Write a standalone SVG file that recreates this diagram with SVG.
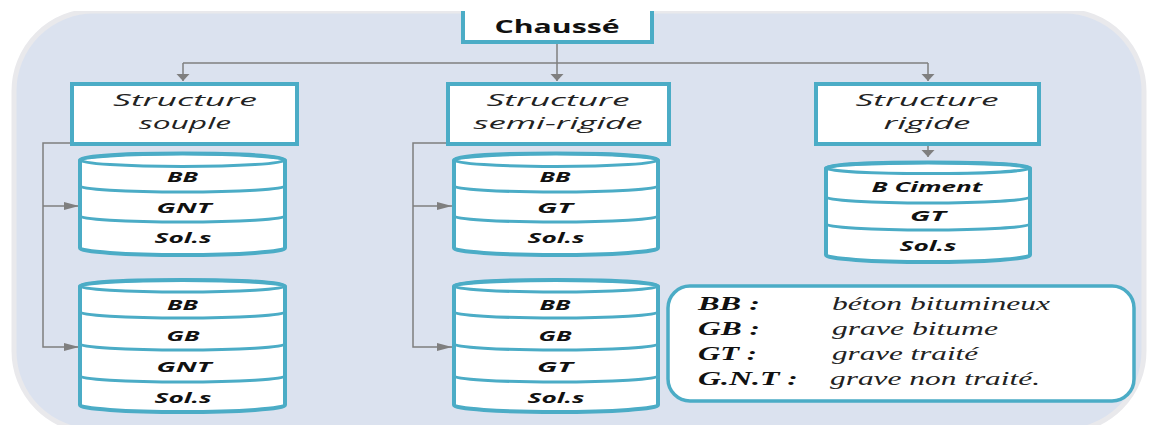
<svg xmlns="http://www.w3.org/2000/svg" width="1150" height="425" viewBox="0 0 1150 425">
<style>
.bg{fill:#dbe2ef;stroke:#e9e9ec;stroke-width:5}
.box{fill:#fff;stroke:#4bacc6;stroke-width:4}
.cyl{fill:#fff;stroke:#4bacc6;stroke-width:4}
.div{fill:none;stroke:#4bacc6;stroke-width:3}
.con{fill:none;stroke:#7f7f7f;stroke-width:1.5}
.t-main{font-family:"Open Sans","DejaVu Sans",sans-serif;font-weight:bold;font-size:18px;fill:#111}
.t-str{font-family:"Open Sans","DejaVu Sans",sans-serif;font-style:italic;font-size:17px;fill:#222}
.t-lay{font-family:"Open Sans","DejaVu Sans",sans-serif;font-style:italic;font-weight:bold;font-size:14px;fill:#111}
.t-abbr{font-family:"Liberation Serif","DejaVu Serif",serif;font-style:italic;font-weight:bold;font-size:18px;fill:#111}
.t-desc{font-family:"Liberation Serif","DejaVu Serif",serif;font-style:italic;font-size:18px;fill:#222}
</style>
<defs>
<marker id="ad" markerUnits="userSpaceOnUse" markerWidth="8" markerHeight="14" refX="7" refY="6.5" orient="auto"><path d="M0,0 L7,6.5 L0,13 Z" fill="#7f7f7f"/></marker>
<marker id="ar" markerUnits="userSpaceOnUse" markerWidth="16" markerHeight="9" refX="15" refY="4" orient="auto"><path d="M0,0 L15,4 L0,8 Z" fill="#7f7f7f"/></marker>
</defs>

<rect class="bg" x="14" y="11" width="1130" height="420" rx="80" ry="80"/>

<g id="connectors">
<path class="con" d="M557,43 V81" marker-end="url(#ad)"/>
<path class="con" d="M183,63 H928"/>
<path class="con" d="M183,63 V81" marker-end="url(#ad)"/>
<path class="con" d="M928,63 V81" marker-end="url(#ad)"/>
<path class="con" d="M71,143 H43 V347 H79" marker-end="url(#ar)"/>
<path class="con" d="M43,206 H79" marker-end="url(#ar)"/>
<path class="con" d="M447,143 H413 V347 H452" marker-end="url(#ar)"/>
<path class="con" d="M413,206 H452" marker-end="url(#ar)"/>
<path class="con" d="M928,146 V157" marker-end="url(#ad)"/>
</g>

<g id="chausse">
<rect class="box" x="463" y="-10" width="189" height="52"/>
</g>
<rect x="0" y="0" width="1150" height="11" fill="#fff"/>
<text class="t-main" x="557" y="33" text-anchor="middle" textLength="125" lengthAdjust="spacingAndGlyphs">Chaussé</text>

<g id="structure-souple">
<rect class="box" x="72" y="84" width="225" height="60"/>
<text class="t-str" x="185" y="106" text-anchor="middle" textLength="144" lengthAdjust="spacingAndGlyphs">Structure</text>
<text class="t-str" x="185" y="129" text-anchor="middle" textLength="92" lengthAdjust="spacingAndGlyphs">souple</text>
</g>

<g id="structure-semi-rigide">
<rect class="box" x="448" y="84" width="221" height="60"/>
<text class="t-str" x="558" y="106" text-anchor="middle" textLength="143" lengthAdjust="spacingAndGlyphs">Structure</text>
<text class="t-str" x="558" y="129" text-anchor="middle" textLength="169" lengthAdjust="spacingAndGlyphs">semi-rigide</text>
</g>

<g id="structure-rigide">
<rect class="box" x="816" y="84" width="223" height="60"/>
<text class="t-str" x="927" y="106" text-anchor="middle" textLength="143" lengthAdjust="spacingAndGlyphs">Structure</text>
<text class="t-str" x="927" y="129" text-anchor="middle" textLength="87" lengthAdjust="spacingAndGlyphs">rigide</text>
</g>

<g id="souple-1">
<path class="cyl" d="M80,160 V248 A102.5,7 0 0 0 285,248 V160 A102.5,6.5 0 0 0 80,160 Z"/>
<ellipse class="div" cx="182.5" cy="160" rx="102.5" ry="6.5"/>
<path class="div" d="M80,186 A102.5,6 0 0 0 285,186 M80,216 A102.5,6 0 0 0 285,216"/>
<text class="t-lay" x="182.5" y="182" text-anchor="middle" textLength="31" lengthAdjust="spacingAndGlyphs">BB</text>
<text class="t-lay" x="184" y="213" text-anchor="middle" textLength="55" lengthAdjust="spacingAndGlyphs">GNT</text>
<text class="t-lay" x="183" y="243" text-anchor="middle" textLength="57" lengthAdjust="spacingAndGlyphs">Sol.s</text>
</g>

<g id="souple-2">
<path class="cyl" d="M80,286 V405 A102.5,7 0 0 0 285,405 V286 A102.5,6 0 0 0 80,286 Z"/>
<ellipse class="div" cx="182.5" cy="286" rx="102.5" ry="6"/>
<path class="div" d="M80,312 A102.5,6 0 0 0 285,312 M80,344 A102.5,6 0 0 0 285,344 M80,376 A102.5,6 0 0 0 285,376"/>
<text class="t-lay" x="182.5" y="310" text-anchor="middle" textLength="31" lengthAdjust="spacingAndGlyphs">BB</text>
<text class="t-lay" x="183" y="341" text-anchor="middle" textLength="33" lengthAdjust="spacingAndGlyphs">GB</text>
<text class="t-lay" x="184" y="372" text-anchor="middle" textLength="55" lengthAdjust="spacingAndGlyphs">GNT</text>
<text class="t-lay" x="183" y="403" text-anchor="middle" textLength="57" lengthAdjust="spacingAndGlyphs">Sol.s</text>
</g>

<g id="semi-1">
<path class="cyl" d="M454,160 V248 A102,7 0 0 0 658,248 V160 A102,6.5 0 0 0 454,160 Z"/>
<ellipse class="div" cx="556" cy="160" rx="102" ry="6.5"/>
<path class="div" d="M454,186 A102,6 0 0 0 658,186 M454,216 A102,6 0 0 0 658,216"/>
<text class="t-lay" x="555" y="182" text-anchor="middle" textLength="31" lengthAdjust="spacingAndGlyphs">BB</text>
<text class="t-lay" x="555" y="213" text-anchor="middle" textLength="36" lengthAdjust="spacingAndGlyphs">GT</text>
<text class="t-lay" x="556" y="243" text-anchor="middle" textLength="57" lengthAdjust="spacingAndGlyphs">Sol.s</text>
</g>

<g id="semi-2">
<path class="cyl" d="M454,286 V405 A102,7 0 0 0 658,405 V286 A102,6 0 0 0 454,286 Z"/>
<ellipse class="div" cx="556" cy="286" rx="102" ry="6"/>
<path class="div" d="M454,312 A102,6 0 0 0 658,312 M454,344 A102,6 0 0 0 658,344 M454,376 A102,6 0 0 0 658,376"/>
<text class="t-lay" x="555" y="310" text-anchor="middle" textLength="31" lengthAdjust="spacingAndGlyphs">BB</text>
<text class="t-lay" x="555" y="341" text-anchor="middle" textLength="33" lengthAdjust="spacingAndGlyphs">GB</text>
<text class="t-lay" x="555" y="372" text-anchor="middle" textLength="36" lengthAdjust="spacingAndGlyphs">GT</text>
<text class="t-lay" x="556" y="403" text-anchor="middle" textLength="57" lengthAdjust="spacingAndGlyphs">Sol.s</text>
</g>

<g id="rigide-1">
<path class="cyl" d="M826,168 V255 A102,7 0 0 0 1030,255 V168 A102,5.5 0 0 0 826,168 Z"/>
<ellipse class="div" cx="928" cy="168" rx="102" ry="5.5"/>
<path class="div" d="M826,197 A102,6 0 0 0 1030,197 M826,224 A102,6 0 0 0 1030,224"/>
<text class="t-lay" x="927" y="192" text-anchor="middle" textLength="111" lengthAdjust="spacingAndGlyphs">B Ciment</text>
<text class="t-lay" x="928" y="221" text-anchor="middle" textLength="36" lengthAdjust="spacingAndGlyphs">GT</text>
<text class="t-lay" x="928" y="251" text-anchor="middle" textLength="57" lengthAdjust="spacingAndGlyphs">Sol.s</text>
</g>

<g id="legend">
<rect x="668" y="286" width="466" height="115" rx="22" ry="22" fill="#fff" stroke="#4bacc6" stroke-width="3.5"/>
<text class="t-abbr" x="698" y="310" textLength="62" lengthAdjust="spacingAndGlyphs">BB :</text>
<text class="t-abbr" x="698" y="335" textLength="62" lengthAdjust="spacingAndGlyphs">GB :</text>
<text class="t-abbr" x="698" y="360" textLength="59" lengthAdjust="spacingAndGlyphs">GT :</text>
<text class="t-abbr" x="698" y="385" textLength="100" lengthAdjust="spacingAndGlyphs">G.N.T :</text>
<text class="t-desc" x="832" y="310" textLength="218" lengthAdjust="spacingAndGlyphs">béton bitumineux</text>
<text class="t-desc" x="832" y="335" textLength="166" lengthAdjust="spacingAndGlyphs">grave bitume</text>
<text class="t-desc" x="832" y="360" textLength="146" lengthAdjust="spacingAndGlyphs">grave traité</text>
<text class="t-desc" x="830" y="385" textLength="210" lengthAdjust="spacingAndGlyphs">grave non traité.</text>
</g>
</svg>
